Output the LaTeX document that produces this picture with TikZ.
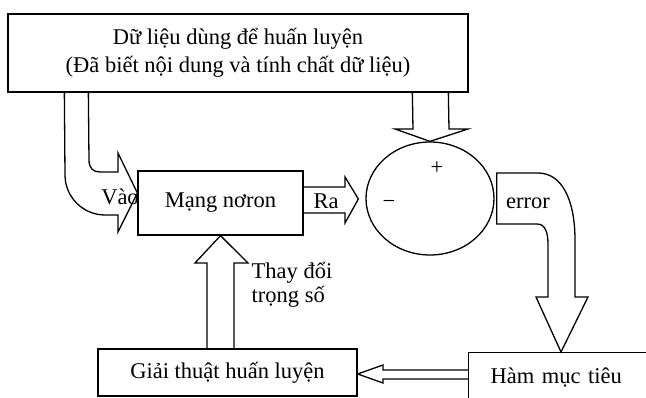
\documentclass[tikz,border=0pt]{standalone}
\usepackage{fontspec}
\setmainfont{Liberation Serif}
\usetikzlibrary{calc,shapes.geometric}
\begin{document}
\begin{tikzpicture}[x=1pt,y=-1pt, line width=1.3pt,
  box/.style={draw, rectangle, inner sep=0pt, font=\fontsize{22.5}{28}\selectfont},
  blockarrow/.style={draw, line join=miter},
  lbl/.style={font=\fontsize{22.5}{24}\selectfont, inner sep=0pt}]
\useasboundingbox[fill=white] (0,0) rectangle (646,398);
\clip (0,0) rectangle (646,398);

% nodes
\node[box, minimum width=460pt, minimum height=78pt, align=center] (data) at (238,53)
  {Dữ liệu dùng để huấn luyện\\(Đã biết nội dung và tính chất dữ liệu)};
\node[box, minimum width=165pt, minimum height=64pt] (net) at (220.5,203) {Mạng nơron};
\node[draw, ellipse, minimum width=128pt, minimum height=113pt, inner sep=0pt] (sum) at (430,198.5) {};
\node[lbl] (plus) at (437,168) {+};
\node[lbl] (minus) at (389,204) {−};
\node[box, minimum width=259pt, minimum height=47pt] (train) at (227.5,372.5) {Giải thuật huấn luyện};
\node[box, anchor=north west, minimum width=204pt, minimum height=50pt, text width=160pt,
  align=left, inner xsep=22pt] (obj) at (468,352) {Hàm mục tiêu};

% input arrow (data -> net)
\draw[blockarrow] ($(data.south west)+(57,0)$) -- (65,175)
  .. controls (65,197) and (83,215) .. (105,215) -- (118,215) -- (118,232)
  -- ($(net.west)+(0,-10)$) -- (118,153) -- (118,172) -- (100,172)
  .. controls (93,172) and (89,168) .. (89,160) -- ($(data.south west)+(81,0)$);
\node[lbl] (vao) at (120,197) {Vào};

% output arrow (net -> sum)
\draw[blockarrow] ($(net.east)+(0,-16)$) -- (345,187) -- (345,177)
  -- ($(sum.west)+(-7,0.5)$) -- (345,223) -- (345,213) -- ($(net.east)+(0,10)$);
\node[lbl] (ra) at (326,201) {Ra};

% target arrow (data -> sum)
\draw[blockarrow] ($(data.south west)+(405,0)$) -- (413,129) -- (395,129)
  -- (sum.north) -- (468,129) -- (449,129) -- ($(data.south west)+(441,0)$);

% error arrow (sum -> obj)
\draw[blockarrow] ($(sum.east)+(2,-25.5)$) -- (538,173)
  .. controls (562,173) and (575,200) .. (575,240) -- (575,297) -- (588,297)
  -- ($(obj.north west)+(93,0)$) -- (536,297) -- (548,297) -- (548,244)
  .. controls (548,232) and (545,224) .. (537,224) -- ($(sum.east)+(2,25.5)$) -- cycle;
\node[lbl] (err) at (528,203) {error};

% weight update arrow (train -> net)
\draw[blockarrow] ($(train.north)+(-20.5,0)$) -- (207,263) -- (195,263)
  -- (net.south) -- (248,263) -- (234,263) -- ($(train.north)+(6.5,0)$);
\node[lbl, anchor=west, align=left] (thay) at (251,285) {Thay đổi\\trọng số};

% obj -> train arrow
\draw[blockarrow] ($(obj.north west)+(0,18)$) -- (383,370) -- (383,365)
  -- ($(train.east)+(0,1.5)$) -- (383,383) -- (383,379) -- ($(obj.north west)+(0,27)$);
\end{tikzpicture}
\end{document}
